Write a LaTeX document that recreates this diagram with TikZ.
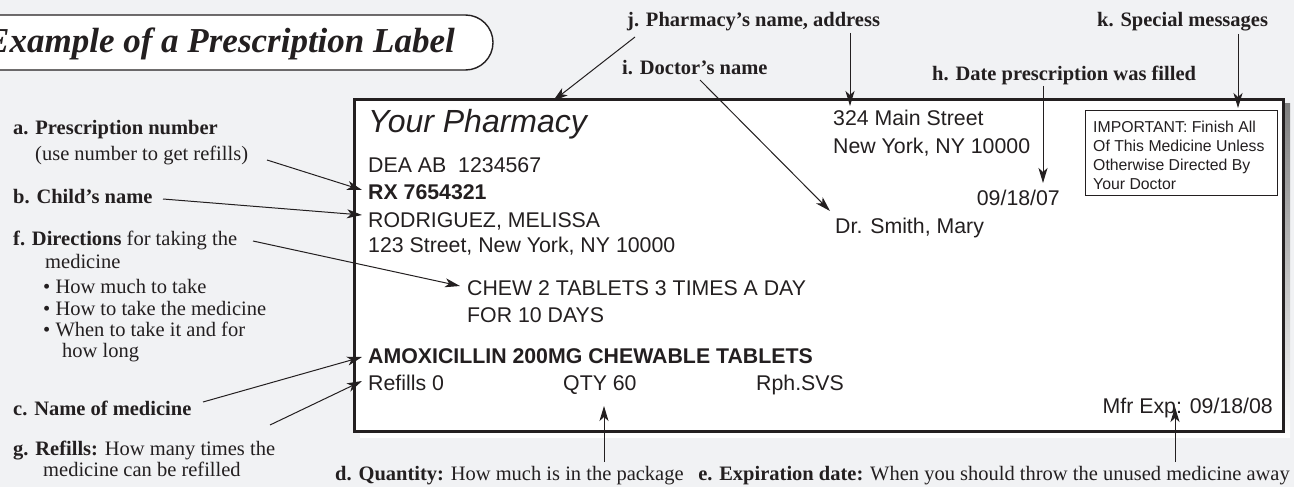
\documentclass[tikz,border=0pt]{standalone}
\usepackage{fontspec}
\setmainfont{Liberation Serif}
\newfontfamily\labfont{Liberation Sans}
\usetikzlibrary{arrows.meta}
\definecolor{bg}{RGB}{241,242,244}
\definecolor{ink}{RGB}{35,31,32}
\definecolor{shade}{RGB}{168,170,173}
\begin{document}
\begin{tikzpicture}[x=1pt,y=-1pt,
  lab/.style={anchor=base west, inner sep=0pt, text=ink, font=\labfont\fontsize{21.3}{25}\selectfont},
  labr/.style={lab, anchor=base east},
  small/.style={anchor=base west, inner sep=0pt, text=ink, font=\labfont\fontsize{15.8}{19}\selectfont},
  call/.style={anchor=base west, inner sep=0pt, text=ink, font=\fontsize{20.5}{24}\selectfont},
  arr/.style={draw=ink, line width=1pt, -{Stealth[length=15pt,width=9pt,inset=4pt]}},
]
\useasboundingbox (0,0) rectangle (1294,487);
\fill[bg] (0,0) rectangle (1294,487);

% title banner
\draw[fill=white, draw=ink, line width=1.4pt, rounded corners=27.5pt] (-10,15) -- (493,15) -- (493,70) -- (-10,70);
\node[anchor=base east, inner sep=0pt, text=ink, font=\fontsize{35}{40}\selectfont\bfseries\itshape] (title) at (455,53) {Example of a Prescription Label};

% label box with shadow
\fill[shade] (360,104) rectangle (1290,437);
\node[draw=ink, fill=white, line width=2.6pt, minimum width=929pt, minimum height=332pt, anchor=north west, inner sep=0pt] (labelbox) at (353,98) {};

% label contents
\node[anchor=base west, inner sep=0pt, text=ink, font=\labfont\fontsize{32}{36}\selectfont\itshape] (pharm) at (368,132) {Your Pharmacy};
\node[lab] (dea) at (368,172) {DEA AB\hspace{0.56em}1234567};
\node[lab, font=\labfont\fontsize{21.3}{25}\selectfont\bfseries] (rx) at (368,199) {RX 7654321};
\node[lab] (child) at (368,227) {RODRIGUEZ, MELISSA};
\node[lab] (caddr) at (368,252) {123 Street, New York, NY 10000};
\node[lab] (dir1) at (467,295) {CHEW 2 TABLETS 3 TIMES A DAY};
\node[lab] (dir2) at (467,322) {FOR 10 DAYS};
\node[lab, font=\labfont\fontsize{21.3}{25}\selectfont\bfseries] (med) at (368,363) {AMOXICILLIN 200MG CHEWABLE TABLETS};
\node[lab] (refills) at (368,390) {Refills 0};
\node[lab] (qty) at (563,390) {QTY 60};
\node[lab] (rph) at (756,390) {Rph.SVS};
\node[labr] (mfr) at (1273,413) {Mfr Exp: 09/18/08};
\node[lab] (paddr1) at (833,125) {324 Main Street};
\node[lab] (paddr2) at (833,153) {New York, NY 10000};
\node[labr] (date) at (1060,205) {09/18/07};
\node[lab] (doc) at (835,233) {Dr. Smith, Mary};

\node[draw=ink, line width=0.9pt, minimum width=192pt, minimum height=85pt, anchor=north west, inner sep=0pt] (imp) at (1085,110) {};
\node[small] (imp1) at (1093,132) {IMPORTANT: Finish All};
\node[small] (imp2) at (1093,151) {Of This Medicine Unless};
\node[small] (imp3) at (1093,170) {Otherwise Directed By};
\node[small] (imp4) at (1093,189) {Your Doctor};

% callouts left
\node[call] (a1) at (13,135) {\bfseries a. Prescription number};
\node[call] (a2) at (35,160) {(use number to get refills)};
\node[call] (b1) at (13,203) {\bfseries b. Child’s name};
\node[call] (f1) at (13,245) {\textbf{f. Directions} for taking the};
\node[call] (f2) at (45,268) {medicine};
\node[call] (f3) at (43,293) {• How much to take};
\node[call] (f4) at (43,315) {• How to take the medicine};
\node[call] (f5) at (43,336) {• When to take it and for};
\node[call] (f6) at (62,357) {how long};
\node[call] (c1) at (13,415) {\bfseries c. Name of medicine};
\node[call] (g1) at (13,455) {\textbf{g. Refills:} How many times the};
\node[call] (g2) at (43,476) {medicine can be refilled};

% callouts top
\node[call] (j1) at (627,27) {\bfseries j. Pharmacy’s name, address};
\node[call] (i1) at (622,75) {\bfseries i. Doctor’s name};
\node[call] (h1) at (932,81) {\bfseries h. Date prescription was filled};
\node[call] (k1) at (1097,27) {\bfseries k. Special messages};

% callouts bottom
\node[call] (d1) at (335,480) {\textbf{d. Quantity:} How much is in the package};
\node[call, anchor=base east] (e1) at (1290,480) {\textbf{e. Expiration date:} When you should throw the unused medicine away};

% arrow endpoints
\coordinate (aT) at (267,160); \coordinate (aH) at (362,190);
\coordinate (bT) at (163,199); \coordinate (bH) at (362,215);
\coordinate (fT) at (253,241); \coordinate (fH) at (460,286);
\coordinate (cT) at (203,402); \coordinate (cH) at (362,357);
\coordinate (gT) at (270,425); \coordinate (gH) at (362,381);
\coordinate (jT) at (635,37);  \coordinate (jH) at (553,101);
\coordinate (iT) at (700,80);  \coordinate (iH) at (830,211);
\coordinate (j2T) at (850,33); \coordinate (j2H) at (850,106);
\coordinate (hT) at (1043,86); \coordinate (hH) at (1043,183);
\coordinate (kT) at (1238,34); \coordinate (kH) at (1238,108);
\coordinate (dT) at (604,462); \coordinate (dH) at (604,406);
\coordinate (eT) at (1175,462); \coordinate (eH) at (1175,407);

\draw[arr] (aT) -- (aH);
\draw[arr] (bT) -- (bH);
\draw[arr] (fT) -- (fH);
\draw[arr] (cT) -- (cH);
\draw[arr] (gT) -- (gH);
\draw[arr] (jT) -- (jH);
\draw[arr] (iT) -- (iH);
\draw[arr] (j2T) -- (j2H);
\draw[arr] (hT) -- (hH);
\draw[arr] (kT) -- (kH);
\draw[arr] (dT) -- (dH);
\draw[arr] (eT) -- (eH);
\end{tikzpicture}
\end{document}
